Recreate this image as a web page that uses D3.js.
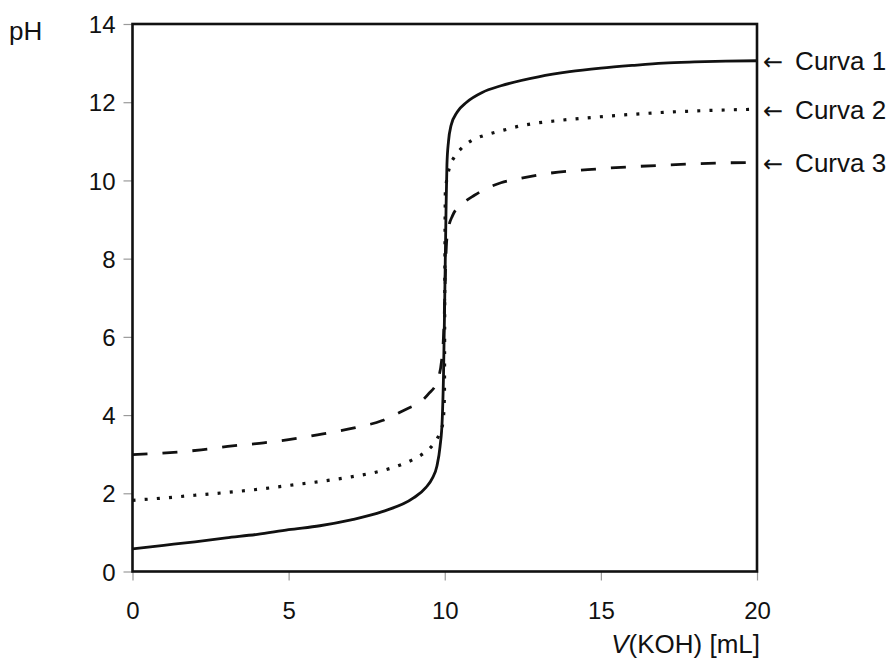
<!DOCTYPE html>
<html>
<head>
<meta charset="utf-8">
<script src="https://cdn.jsdelivr.net/npm/d3@7"></script>
<style>
  body { margin: 0; background: #fff; }
  svg text { font-family: "Liberation Sans", Arial, sans-serif; fill: #111; }
</style>
</head>
<body>
<svg id="chart" width="892" height="661"></svg>
<script>
///////////////////////////////////////////
// Data
///////////////////////////////////////////
var xTicks = [0, 5, 10, 15, 20];
var yTicks = [0, 2, 4, 6, 8, 10, 12, 14];
var curveNames = ["Curva 1", "Curva 2", "Curva 3"];

// Curva 1 (solid)
var vol1 = [0, 1, 2, 3, 4, 5, 6, 7, 8, 9, 9.4, 9.6, 9.75, 9.85, 9.92, 9.96, 10.0, 10.04, 10.07, 10.12, 10.2, 10.4, 10.7, 11.2, 11.8, 13, 14, 15, 16, 17, 18, 19, 20];
var ph1 = [0.58, 0.67, 0.76, 0.86, 0.95, 1.07, 1.17, 1.32, 1.53, 1.88, 2.15, 2.38, 2.7, 3.2, 3.9, 5.0, 7.0, 9.2, 10.4, 11.0, 11.4, 11.75, 12.0, 12.25, 12.42, 12.65, 12.78, 12.87, 12.94, 13.0, 13.03, 13.05, 13.06];

// Curva 2 (dotted)
var vol2 = [0, 1, 2, 3, 4, 5, 6, 7, 8, 8.7, 9, 9.35, 9.65, 9.83, 9.94, 9.99, 10.0, 10.02, 10.15, 10.31, 10.56, 10.88, 11.26, 11.65, 12, 12.4, 12.8, 13.5, 14.7, 16, 17, 18.5, 20];
var ph2 = [1.82, 1.88, 1.95, 2.02, 2.1, 2.2, 2.3, 2.42, 2.58, 2.76, 2.87, 3.04, 3.27, 3.52, 3.8, 4.5, 7.0, 9.7, 10.33, 10.6, 10.84, 11.03, 11.15, 11.24, 11.31, 11.39, 11.45, 11.52, 11.61, 11.69, 11.74, 11.79, 11.82];

// Curva 3 (dashed)
var vol3 = [0, 1.2, 2.2, 3.2, 4.2, 5, 6.1, 7.1, 8, 8.9, 9.1, 9.5, 9.75, 9.9, 9.97, 10.0, 10.05, 10.1, 10.25, 10.55, 10.95, 11.35, 11.8, 12.3, 12.8, 13, 15, 17, 19, 20];
var ph3 = [2.99, 3.04, 3.11, 3.21, 3.29, 3.37, 3.52, 3.67, 3.86, 4.2, 4.27, 4.56, 4.85, 5.4, 6.2, 7.0, 8.3, 8.7, 9.1, 9.39, 9.62, 9.8, 9.94, 10.03, 10.11, 10.14, 10.3, 10.39, 10.45, 10.46];

///////////////////////////////////////////
// Chart
///////////////////////////////////////////
var svg = d3.select("#chart");
var plotL = 132.5, plotR = 757, plotT = 24, plotB = 571.5;

var x = d3.scaleLinear().domain([0, 20]).range([plotL, plotR]);
var y = d3.scaleLinear().domain([0, 14]).range([plotB, plotT]);

// axes (ticks only, frame drawn separately)
var yAxis = svg.append("g")
    .attr("transform", "translate(" + plotL + ",0)")
    .call(d3.axisLeft(y).tickValues(yTicks).tickSizeInner(9).tickSizeOuter(0).tickPadding(8));
var xAxis = svg.append("g")
    .attr("transform", "translate(0," + plotB + ")")
    .call(d3.axisBottom(x).tickValues(xTicks).tickSizeInner(9).tickSizeOuter(0).tickPadding(21));

[xAxis, yAxis].forEach(function(a) {
    a.select(".domain").remove();
    a.selectAll(".tick line").attr("stroke", "#9a9a9a").attr("stroke-width", 1.2);
    a.selectAll(".tick text").style("font-size", "24px").attr("fill", "#111");
});
yAxis.selectAll(".tick text").attr("dy", "0.36em");

// curves
var line = d3.line()
    .x(function(d) { return x(d[0]); })
    .y(function(d) { return y(d[1]); })
    .curve(d3.curveMonotoneX);

var series = [
    { v: vol1, p: ph1, dash: null },
    { v: vol2, p: ph2, dash: "3,9.2" },
    { v: vol3, p: ph3, dash: "15,15" }
];

series.forEach(function(s, i) {
    var pts = d3.zip(s.v, s.p);
    svg.append("path")
        .datum(pts)
        .attr("d", line)
        .attr("fill", "none")
        .attr("stroke", "#111")
        .attr("stroke-width", i == 1 ? 3.2 : 2.8)
        .attr("stroke-dasharray", s.dash);

    // label at the right end: arrow + name
    var lab = svg.append("text")
        .attr("x", plotR + 6)
        .attr("y", y(s.p[s.p.length - 1]))
        .attr("dy", "0.36em")
        .style("font-size", "26px");
    lab.append("tspan")
        .style("font-family", "'DejaVu Sans'")
        .style("font-size", "24px")
        .text("\u2190");
    lab.append("tspan")
        .attr("dx", 12)
        .text(curveNames[i]);
});

// frame
svg.append("rect")
    .attr("x", plotL).attr("y", plotT)
    .attr("width", plotR - plotL).attr("height", plotB - plotT)
    .attr("fill", "none")
    .attr("stroke", "#111")
    .attr("stroke-width", 2.6);

// axis titles
svg.append("text")
    .attr("x", 9).attr("y", 40)
    .style("font-size", "26px")
    .text("pH");

var xt = svg.append("text")
    .attr("x", 760).attr("y", 653)
    .attr("text-anchor", "end")
    .style("font-size", "26px");
xt.append("tspan").style("font-style", "italic").text("V");
xt.append("tspan").text("(KOH) [mL]");
</script>
</body>
</html>
